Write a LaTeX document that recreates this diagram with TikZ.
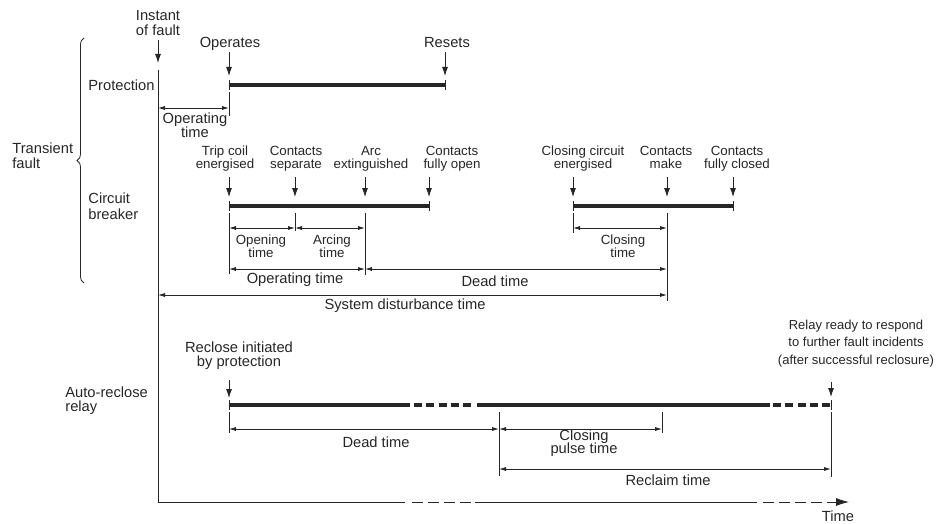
\documentclass[tikz,border=0pt]{standalone}
\usepackage{fontspec}
\setmainfont{Liberation Sans}
\usetikzlibrary{arrows.meta,decorations.pathreplacing}

\begin{document}
\begin{tikzpicture}[x=1pt,y=-1pt,>={Latex[length=7pt,width=4pt]},
  line width=0.8pt,color=black!85,
  lbl/.style={font=\fontsize{14.7}{14}\selectfont,align=center,inner sep=0pt},
  sml/.style={lbl,font=\fontsize{13.3}{13}\selectfont},
  evt/.style={lbl,anchor=south,text depth=4.5pt},
  drop/.style={-{Latex[length=9pt,width=6pt]}},
  dimline/.style={<->},
  bar/.style={line width=4pt},
  brk/.style={dash pattern=on 8pt off 4.3pt}]

  \useasboundingbox (0,0) rectangle (936,524);

  % time axis
  \coordinate (top) at (158,70);
  \coordinate (org) at (158,502);
  \coordinate (tend) at (849,502);
  \draw (top) -- (org) -- (405,502);
  \draw[dash pattern=on 11pt off 5pt] (412,502) -- (475,502);
  \draw (475,502) -- (757,502);
  \draw[dash pattern=on 11pt off 5pt,-{Latex[length=13pt,width=8pt]}] (763,502) -- (tend);
  \node[lbl] (time) at (838,516) {Time};

  % row labels
  \node[lbl,anchor=east] (prot) at (155,85) {Protection};
  \node[lbl,anchor=west,align=left] (trf) at (12,156) {Transient\\[1pt]fault};
  \node[lbl,anchor=west,align=left] (cbk) at (88,206) {Circuit\\[2pt]breaker};
  \node[lbl,anchor=west,align=left] (arr) at (65,401) {Auto-reclose\\relay};
  \draw[decorate,decoration={brace,amplitude=7pt}] (84,283) -- (84,38);

  % protection
  \coordinate (p1) at (229,85);
  \coordinate (p2) at (445,85);
  \draw[bar] (p1) -- (p2);
  \node[evt] (inst) at (158,40) {Instant\\[1pt]of fault};
  \node[evt] (oper) at (230,52) {Operates};
  \node[evt] (rset) at (447,52) {Resets};
  \path[drop]
    (inst) edge[shorten >=7pt] (top)
    (p1 |- oper.south) edge[shorten >=9pt] (p1)
    (p2 |- rset.south) edge[shorten >=9pt] (p2);
  \draw (p1) ++(0,7) -- ++(0,24);
  \coordinate (lo) at (0,108);
  \draw[dimline] (top |- lo) -- (p1 |- lo);
  \node[lbl] (optp) at (195,125) {Operating\\time};

  % circuit breaker
  \coordinate (b1) at (229,206);
  \coordinate (b2) at (295,206);
  \coordinate (b3) at (365,206);
  \coordinate (b4) at (429,206);
  \coordinate (c1) at (573,206);
  \coordinate (c2) at (667,206);
  \coordinate (c3) at (733,206);
  \draw[bar] (b1) -- (b4);
  \draw[bar] (c1) -- (c3);
  \node[evt,sml] (trip) at (225,173) {Trip coil\\energised};
  \node[evt,sml] (sep) at (296,173) {Contacts\\separate};
  \node[evt,sml] (ext) at (371,173) {Arc\\extinguished};
  \node[evt,sml] (fop) at (452,173) {Contacts\\fully open};
  \node[evt,sml] (cce) at (583,173) {Closing circuit\\energised};
  \node[evt,sml] (mk) at (666,173) {Contacts\\make};
  \node[evt,sml] (fcl) at (737,173) {Contacts\\fully closed};
  \path[drop,shorten <=4pt,shorten >=9pt]
    (b1 |- trip.south) edge (b1)
    (b2 |- sep.south) edge (b2)
    (b3 |- ext.south) edge (b3)
    (b4 |- fop.south) edge (b4)
    (c1 |- cce.south) edge (c1)
    (c2 |- mk.south) edge (c2)
    (c3 |- fcl.south) edge (c3);

  \coordinate (ea) at (0,213);
  \coordinate (la) at (0,228);
  \coordinate (lb) at (0,269);
  \coordinate (lc) at (0,295);
  \draw (b1 |- ea) -- ++(0,61);
  \draw (b2 |- ea) -- ++(0,18);
  \draw (b3 |- ea) -- ++(0,62);
  \draw (c1 |- ea) -- ++(0,20);
  \draw (c2 |- ea) -- ++(0,88);
  \draw[dimline] (b1 |- la) -- (b2 |- la);
  \draw[dimline] (b2 |- la) -- (b3 |- la);
  \draw[dimline] (c1 |- la) -- (c2 |- la);
  \draw[dimline] (b1 |- lb) -- (b3 |- lb);
  \draw[dimline] (b3 |- lb) -- (c2 |- lb);
  \draw[dimline] (top |- lc) -- (c2 |- lc);
  \node[sml] (opg) at (261,246) {Opening\\time};
  \node[sml] (arcg) at (332,246) {Arcing\\time};
  \node[sml] (clsg) at (623,246) {Closing\\time};
  \node[lbl] (optm) at (295,280) {Operating time};
  \node[lbl] (dtm) at (495,281) {Dead time};
  \node[lbl] (sdt) at (405,306) {System disturbance time};

  % auto-reclose relay
  \coordinate (r1) at (229,405);
  \coordinate (r2) at (831,405);
  \coordinate (rc) at (499,412);
  \coordinate (cp) at (662,412);
  \draw[bar] (r1) -- (410,405);
  \draw[bar,brk] (414,405) -- (474,405);
  \draw[bar] (477,405) -- (770,405);
  \draw[bar,brk] (773,405) -- (r2);
  \foreach \p in {p1,p2,b1,b4,c1,c3,r1,r2}
    \draw (\p) ++(0,-5) -- ++(0,10);
  \node[evt] (rin) at (239,371) {Reclose initiated\\by protection};
  \node[evt,font=\fontsize{13}{17.5}\selectfont] (rdy) at (856,369)
    {Relay ready to respond\\to further fault incidents\\(after successful reclosure)};
  \draw[drop,shorten >=7pt] (r1 |- rin.south) ++(0,9) -- (r1);
  \draw[drop,shorten >=8pt] (r2 |- rdy.south) ++(0,13) -- (r2);

  \coordinate (er) at (0,412);
  \coordinate (ld) at (0,429);
  \coordinate (le) at (0,469);
  \draw (r1 |- er) -- ++(0,21);
  \draw (rc) -- ++(0,64);
  \draw (cp) -- ++(0,21);
  \draw (r2 |- er) -- ++(0,65);
  \draw[dimline] (r1 |- ld) -- (rc |- ld);
  \draw[dimline] (rc |- ld) -- (cp |- ld);
  \draw[dimline] (rc |- le) -- (r2 |- le);
  \node[lbl] (dtr) at (376,442) {Dead time};
  \node[lbl] (cpt) at (584,443) {Closing\\[-1pt]pulse time};
  \node[lbl] (rcl) at (668,480) {Reclaim time};
\end{tikzpicture}
\end{document}
